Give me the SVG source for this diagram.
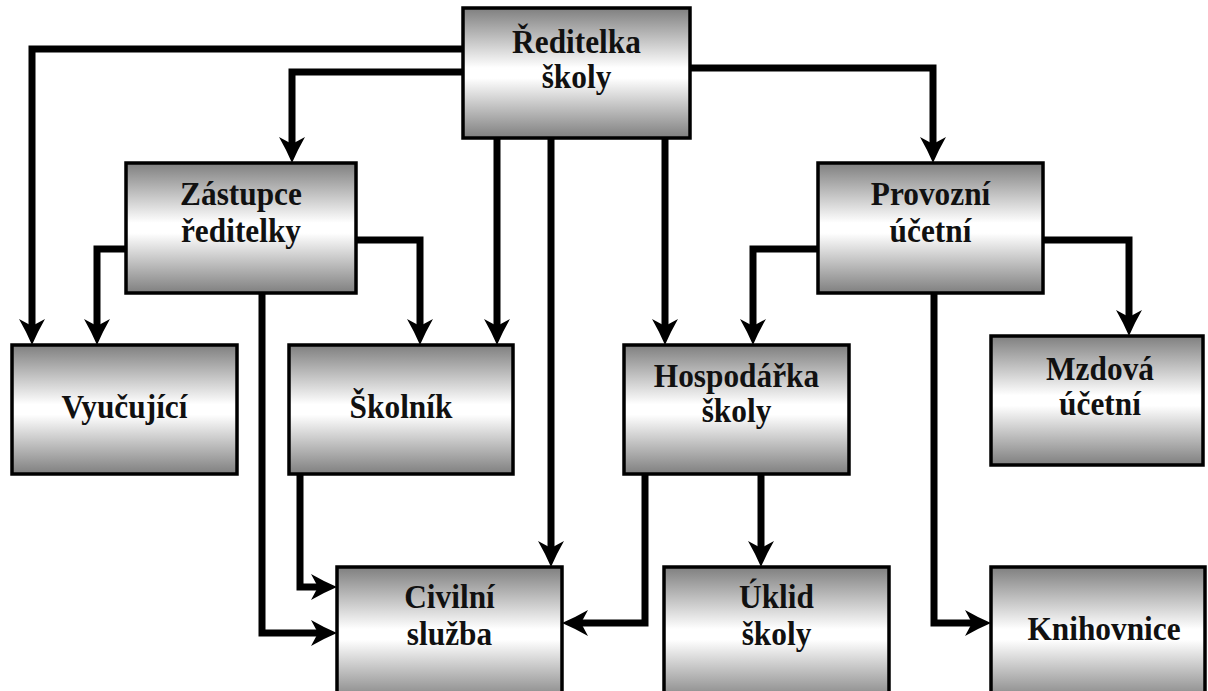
<svg xmlns="http://www.w3.org/2000/svg" width="1208" height="691" viewBox="0 0 1208 691">
<defs>
<linearGradient id="g" x1="0" y1="0" x2="0" y2="1">
<stop offset="0" stop-color="#7f7f7f"/>
<stop offset="0.46" stop-color="#ffffff"/>
<stop offset="0.54" stop-color="#ffffff"/>
<stop offset="1" stop-color="#7f7f7f"/>
</linearGradient>
<marker id="ah" markerUnits="userSpaceOnUse" markerWidth="26" markerHeight="26" viewBox="0 0 26 26" refX="7" refY="13" orient="auto">
<path d="M26,13 Q13,7.5 0,0 L7,13 L0,26 Q13,18.5 26,13 Z" fill="#000"/>
</marker>
<style>
.box{fill:url(#g);stroke:#000;stroke-width:3.5}
.c{fill:none;stroke:#000;stroke-width:7;stroke-linejoin:miter;marker-end:url(#ah)}
text{font-family:'Liberation Serif','Times New Roman','DejaVu Serif',serif;font-weight:bold;font-size:33px;fill:#111;text-anchor:middle}
</style>
</defs>
<rect width="1208" height="691" fill="#fff"/>
<g id="connectors">
<path class="c" d="M463,49 H32 V326"/>
<path class="c" d="M463,72 H292 V144"/>
<path class="c" d="M690,68 H933 V144"/>
<path class="c" d="M497,138 V326"/>
<path class="c" d="M551,138 V548"/>
<path class="c" d="M665,138 V326"/>
<path class="c" d="M126,249 H97 V326"/>
<path class="c" d="M356,240 H420 V326"/>
<path class="c" d="M262,293 V633 H318"/>
<path class="c" d="M300,474 V587 H318"/>
<path class="c" d="M818,249 H753 V326"/>
<path class="c" d="M1043,240 H1129 V317"/>
<path class="c" d="M934,293 V623 H972"/>
<path class="c" d="M645,474 V623 H581"/>
<path class="c" d="M761,474 V548"/>
</g>
<g id="reditelka">
<rect class="box" x="463" y="8" width="227" height="130"/>
<text transform="translate(576.5,53) scale(0.95,1)">Ředitelka</text>
<text transform="translate(576.5,88) scale(0.95,1)">školy</text>
</g>
<g id="zastupce">
<rect class="box" x="126" y="163" width="230" height="130"/>
<text transform="translate(241,205) scale(0.95,1)">Zástupce</text>
<text transform="translate(241,242) scale(0.95,1)">ředitelky</text>
</g>
<g id="provozni">
<rect class="box" x="818" y="163" width="225" height="130"/>
<text transform="translate(930.5,205) scale(0.95,1)">Provozní</text>
<text transform="translate(930.5,242) scale(0.95,1)">účetní</text>
</g>
<g id="vyucujici">
<rect class="box" x="12" y="345" width="225" height="129"/>
<text transform="translate(124.5,418) scale(0.95,1)">Vyučující</text>
</g>
<g id="skolnik">
<rect class="box" x="289" y="345" width="224" height="129"/>
<text transform="translate(401,418) scale(0.95,1)">Školník</text>
</g>
<g id="hospodarka">
<rect class="box" x="624" y="345" width="225" height="129"/>
<text transform="translate(736.5,387) scale(0.95,1)">Hospodářka</text>
<text transform="translate(736.5,422) scale(0.95,1)">školy</text>
</g>
<g id="mzdova">
<rect class="box" x="991" y="336" width="212" height="129"/>
<text transform="translate(1100,380) scale(0.95,1)">Mzdová</text>
<text transform="translate(1100,415) scale(0.95,1)">účetní</text>
</g>
<g id="civilni">
<rect class="box" x="337" y="567" width="225" height="135"/>
<text transform="translate(449.5,608) scale(0.95,1)">Civilní</text>
<text transform="translate(449.5,645) scale(0.95,1)">služba</text>
</g>
<g id="uklid">
<rect class="box" x="664" y="567" width="225" height="135"/>
<text transform="translate(776.5,608) scale(0.95,1)">Úklid</text>
<text transform="translate(776.5,645) scale(0.95,1)">školy</text>
</g>
<g id="knihovnice">
<rect class="box" x="991" y="567" width="214" height="135"/>
<text transform="translate(1104,640) scale(0.95,1)">Knihovnice</text>
</g>
</svg>
